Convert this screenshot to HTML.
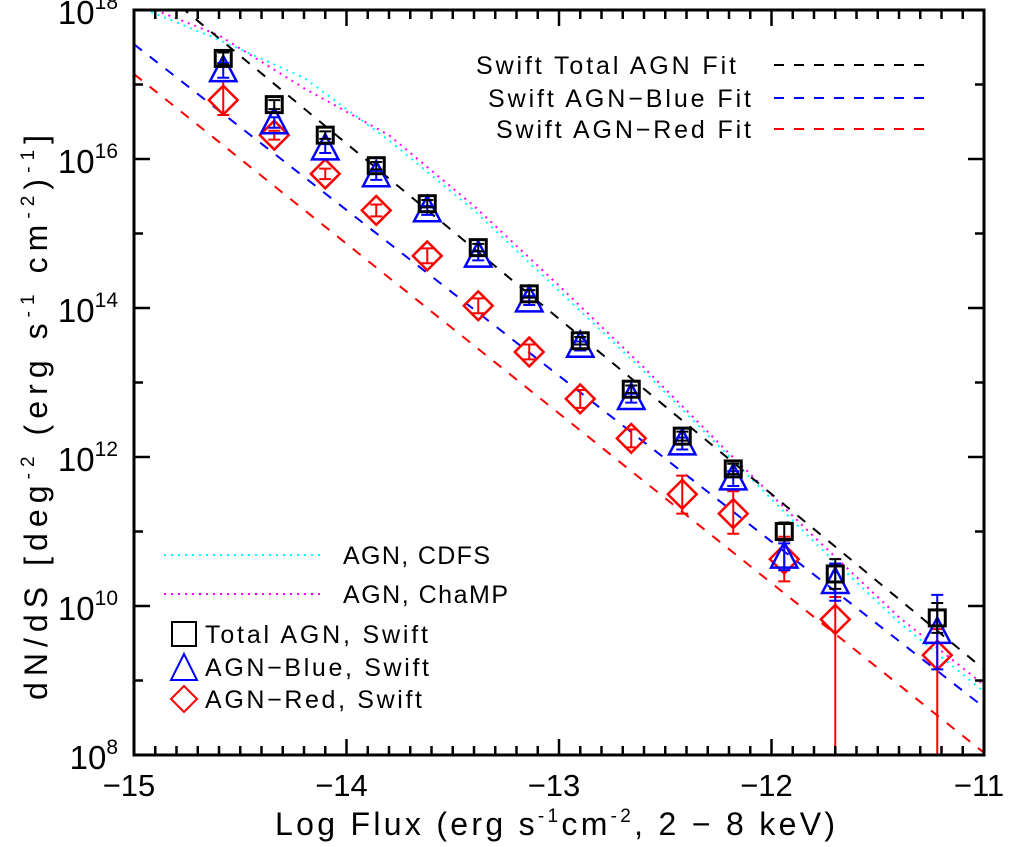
<!DOCTYPE html>
<html><head><meta charset="utf-8"><style>
body{margin:0;background:#fff;}
svg{display:block;font-family:"Liberation Sans",sans-serif;}
</style></head><body>
<svg id="chart" width="1009" height="847" viewBox="0 0 1009 847">
<text x="275" y="835" font-size="32" textLength="560" lengthAdjust="spacing">Log Flux (erg s<tspan font-size="19" dy="-13">-1</tspan><tspan dy="13">cm</tspan><tspan font-size="19" dy="-13">-2</tspan><tspan dy="13">, 2 − 8 keV)</tspan></text>
<text transform="translate(47,700) rotate(-90)" font-size="32" textLength="565" lengthAdjust="spacing">dN/dS [deg<tspan font-size="19" dy="-13">-2</tspan><tspan dy="13"> (erg s</tspan><tspan font-size="19" dy="-13">-1</tspan><tspan dy="13"> cm</tspan><tspan font-size="19" dy="-13">-2</tspan><tspan dy="13">)</tspan><tspan font-size="19" dy="-13">-1</tspan><tspan dy="13">]</tspan></text>
<g font-size="25">
<text x="476" y="74" textLength="260" lengthAdjust="spacing">Swift Total AGN Fit</text>
<line x1="774" y1="65" x2="927" y2="65" stroke="#000" stroke-width="2" stroke-dasharray="10 10"/>
<text x="488" y="107" textLength="263" lengthAdjust="spacing">Swift AGN−Blue Fit</text>
<line x1="774" y1="98" x2="927" y2="98" stroke="#0000ff" stroke-width="2" stroke-dasharray="10 10"/>
<text x="496" y="138" textLength="255" lengthAdjust="spacing">Swift AGN−Red Fit</text>
<line x1="774" y1="129" x2="927" y2="129" stroke="#ff0000" stroke-width="2" stroke-dasharray="10 10"/>
</g>
<g font-size="25">
<line x1="164" y1="555" x2="323" y2="555" stroke="#00ffff" stroke-width="2" stroke-dasharray="2 5"/>
<text x="343" y="564" textLength="147" lengthAdjust="spacing">AGN, CDFS</text>
<line x1="164" y1="594" x2="323" y2="594" stroke="#ff00ff" stroke-width="2" stroke-dasharray="2 5"/>
<text x="343" y="603" textLength="165" lengthAdjust="spacing">AGN, ChaMP</text>
<rect x="172" y="622" width="24" height="24" fill="none" stroke="#000" stroke-width="2"/>
<text x="205" y="643" textLength="223" lengthAdjust="spacing">Total AGN, Swift</text>
<polygon points="184,654 171,680 197,680" fill="none" stroke="#0000ff" stroke-width="2"/>
<text x="205" y="676" textLength="224" lengthAdjust="spacing">AGN−Blue, Swift</text>
<polygon points="184,686 197,699 184,712 171,699" fill="none" stroke="#ff0000" stroke-width="2"/>
<text x="205" y="708" textLength="217" lengthAdjust="spacing">AGN−Red, Swift</text>
</g>
</svg>
<script>
// ---- data ----
const fluxX = [-14.58,-14.34,-14.10,-13.86,-13.62,-13.38,-13.14,-12.90,-12.66,-12.42,-12.18,-11.94,-11.70,-11.22];
const totalY = [17.35,16.73,16.32,15.91,15.40,14.81,14.19,13.56,12.91,12.28,11.84,11.00,10.43,9.84];
const totalErr = [0.08,0.06,0.05,0.05,0.05,0.05,0.05,0.05,0.05,0.06,0.07,0.12,0.2,0.2];
const blueY = [17.19,16.49,16.14,15.78,15.31,14.70,14.10,13.49,12.79,12.18,11.71,10.66,10.32,9.65];
const blueErr = [0.1,0.07,0.06,0.06,0.06,0.06,0.06,0.06,0.06,0.08,0.1,0.18,0.25,0.5];
const redY = [16.79,16.32,15.80,15.31,14.70,14.03,13.41,12.78,12.25,11.50,11.24,10.63,9.82,9.34];
const redErrHi = [0.25,0.06,0.07,0.08,0.1,0.1,0.1,0.12,0.12,0.25,0.3,0.3,0.3,0.35];
const redErrLo = [0.2,0.06,0.07,0.08,0.1,0.1,0.1,0.12,0.12,0.26,0.27,0.3,3,3];
const fitX = [-15,-11];
const fitTotal = [18.56,9.15];
const fitBlue = [17.54,8.64];
const fitRed = [17.14,8.03];
const cdfsX = [-14.95,-14.6,-14.2,-13.8,-13.4,-13.0,-12.6,-12.2,-11.8,-11.4,-11.0];
const cdfsY = [18.01,17.6,17.09,16.25,15.31,14.23,13.15,12.01,10.86,9.78,8.85];
const champX = [-14.9,-14.6,-14.2,-13.8,-13.4,-13.0,-12.6,-12.2,-11.8,-11.4,-11.0];
const champY = [18.0,17.66,16.95,16.32,15.37,14.30,13.20,12.05,10.93,9.85,8.94];
const xTicks = [-15,-14,-13,-12,-11];
const yTicks = [8,10,12,14,16,18];

const L=134,R=984,T=10,B=755;
const XMIN=-15,XMAX=-11,YMIN=8,YMAX=18;
const sx=v=>L+(v-XMIN)/(XMAX-XMIN)*(R-L);
const sy=v=>B-(v-YMIN)/(YMAX-YMIN)*(B-T);
const NS='http://www.w3.org/2000/svg';
const svg=document.getElementById('chart');
function el(tag,attrs,parent){const e=document.createElementNS(NS,tag);for(const k in attrs)e.setAttribute(k,attrs[k]);(parent||svg).appendChild(e);return e;}

const defs=el('defs',{});
const cp=el('clipPath',{id:'clip'},defs);el('rect',{x:L,y:T,width:R-L,height:B-T},cp);
const g=el('g',{'clip-path':'url(#clip)'});



function poly(xs,ys,color,dash,name){
  const p=el('polyline',{points:xs.map((x,i)=>sx(x)+','+sy(ys[i])).join(' '),fill:'none',stroke:color,'stroke-width':2,'stroke-dasharray':dash},g);
  
  
}
poly(cdfsX,cdfsY,'#00ffff','2 5','cdfs-curve');
poly(champX,champY,'#ff00ff','2 5','champ-curve');
poly(fitX,fitTotal,'#000','10 10','total-fit-line');
poly(fitX,fitBlue,'#0000ff','10 10','blue-fit-line');
poly(fitX,fitRed,'#ff0000','10 10','red-fit-line');

function err(x,y,hi,lo,color,name){
  const X=sx(x),y1=sy(y+hi),y2=Math.min(sy(y-lo),B);
  const e=el('path',{d:`M${X},${y1}V${y2}M${X-6},${y1}H${X+6}M${X-6},${y2}H${X+6}`,stroke:color,'stroke-width':2,fill:'none'},g);
  
  
}
function marker(type,cx,cy,color,s,parent){
  let m;
  if(type==='sq') m=el('rect',{x:cx-s/2,y:cy-s/2,width:s,height:s,fill:'none',stroke:color,'stroke-width':3},parent);
  else if(type==='tri') m=el('polygon',{points:`${cx},${cy-s*0.6} ${cx-s*0.55},${cy+s*0.45} ${cx+s*0.55},${cy+s*0.45}`,fill:'none',stroke:color,'stroke-width':2.5},parent);
  else m=el('polygon',{points:`${cx},${cy-s*0.6} ${cx+s*0.6},${cy} ${cx},${cy+s*0.6} ${cx-s*0.6},${cy}`,fill:'none',stroke:color,'stroke-width':2.5},parent);
  return m;
}
fluxX.forEach((x,i)=>{
  err(x,redY[i],redErrHi[i],redErrLo[i],'#ff0000','red-error-bar');
  const r=marker('dia',sx(x),sy(redY[i]),'#ff0000',24,g);
  
  
  err(x,blueY[i],blueErr[i],blueErr[i],'#0000ff','blue-error-bar');
  const b=marker('tri',sx(x),sy(blueY[i]),'#0000ff',24,g);
  
  
  err(x,totalY[i],totalErr[i],totalErr[i],'#000','total-error-bar');
  const t=marker('sq',sx(x),sy(totalY[i]),'#000',16,g);
  
  
});

const fr=el('rect',{x:L,y:T,width:R-L,height:B-T,fill:'none',stroke:'#000','stroke-width':3});


let d='';
for(let v=-15;v<=-11.001;v+=0.1){const X=sx(v);const major=Math.abs(v-Math.round(v))<0.01;const len=major?16:9;d+=`M${X},${B}V${B-len}M${X},${T}V${T+len}`;}
for(let v=8;v<=18;v++){const Y=sy(v);const len=v%2===0?16:9;d+=`M${L},${Y}H${L+len}M${R},${Y}H${R-len}`;}
const tk=el('path',{d:d,stroke:'#000','stroke-width':2.5,fill:'none'});


xTicks.forEach(v=>{
  const t=el('text',{x:sx(v)-5,y:796,'text-anchor':'middle','font-size':31});
  t.textContent='\u2212'+Math.abs(v);
  
  
});
yTicks.forEach(v=>{
  const t=el('text',{x:118,y:sy(v)+14,'text-anchor':'end','font-size':33});
  t.innerHTML='10<tspan font-size="21" dy="-15">'+v+'</tspan>';
  
  
});
</script>
</body></html>
